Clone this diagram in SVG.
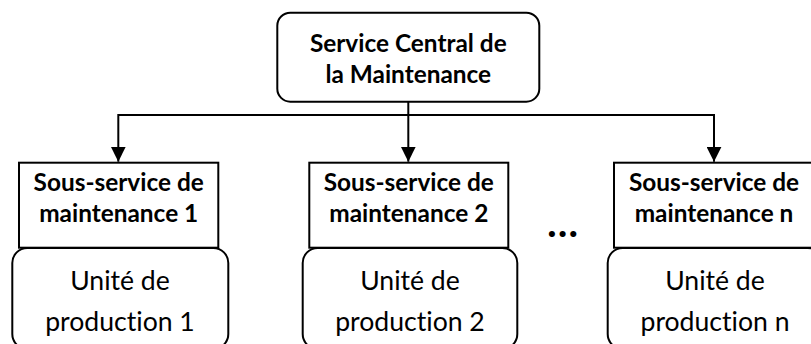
<svg xmlns="http://www.w3.org/2000/svg" width="811" height="344" viewBox="0 0 811 344">
<style>
.box{fill:#fff;stroke:#000;stroke-width:2}
text{font-variant-ligatures:none;font-feature-settings:"liga" 0}
.b{font-family:Lato,"Liberation Sans",sans-serif;font-weight:bold;font-size:24.4px;text-anchor:middle;fill:#000}
.r{font-family:Lato,"Liberation Sans",sans-serif;font-size:26.6px;text-anchor:middle;fill:#000}
.ln{fill:none;stroke:#000;stroke-width:2}
</style>
<defs>
<marker id="ah" markerWidth="15" markerHeight="15" viewBox="0 0 15 15" refX="15" refY="7.5" orient="auto" markerUnits="userSpaceOnUse">
<path d="M0,0 L15,7.5 L0,15 Z" fill="#000"/>
</marker>
</defs>
<rect width="811" height="344" fill="#fff"/>
<g id="connectors">
<path class="ln" d="M408.3,101.7 V115"/>
<path class="ln" d="M118.3,115 H714"/>
<path class="ln" d="M118.3,114 V161.7" marker-end="url(#ah)"/>
<path class="ln" d="M408.3,115 V161.7" marker-end="url(#ah)"/>
<path class="ln" d="M714,114 V161.7" marker-end="url(#ah)"/>
</g>
<g id="central">
<rect class="box" x="277.3" y="12.7" width="262" height="89" rx="13"/>
<text class="b" x="408.3" y="52.3">Service Central de</text>
<text class="b" x="408.3" y="82.7">la Maintenance</text>
</g>
<g id="unit1">
<rect class="box" x="12.3" y="248" width="216" height="101" rx="15"/>
<text class="r" x="120" y="290">Unité de</text>
<text class="r" x="120" y="331">production 1</text>
</g>
<g id="unit2">
<rect class="box" x="302.7" y="248" width="214.6" height="101" rx="15"/>
<text class="r" x="410" y="290">Unité de</text>
<text class="r" x="410" y="331">production 2</text>
</g>
<g id="unitn">
<rect class="box" x="607.7" y="248" width="215" height="101" rx="15"/>
<text class="r" x="715" y="290">Unité de</text>
<text class="r" x="715" y="331">production n</text>
</g>
<g id="sub1">
<rect class="box" x="19" y="162.7" width="199.3" height="85"/>
<text class="b" x="118.7" y="191">Sous-service de</text>
<text class="b" x="118.7" y="221.5">maintenance 1</text>
</g>
<g id="sub2">
<rect class="box" x="309.3" y="162.7" width="199" height="85"/>
<text class="b" x="408.8" y="191">Sous-service de</text>
<text class="b" x="408.8" y="221.5">maintenance 2</text>
</g>
<g id="subn">
<rect class="box" x="614" y="162.7" width="199" height="85"/>
<text class="b" x="714" y="191">Sous-service de</text>
<text class="b" x="714" y="221.5">maintenance n</text>
</g>
<g id="dots">
<text class="b" x="563.7" y="237" style="font-style:italic;font-size:40px">…</text>
</g>
</svg>
